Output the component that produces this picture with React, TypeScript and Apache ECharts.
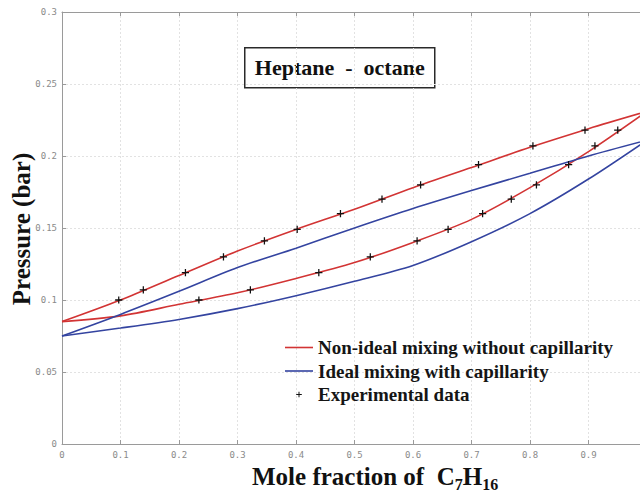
import React, { useEffect, useRef } from "react";
import * as echarts from "echarts";

const moleFraction = [0, 0.1, 0.2, 0.3, 0.4, 0.5, 0.6, 0.7, 0.8, 0.9, 1.0];
const nonIdealUpper = [0.085, 0.1, 0.117, 0.134, 0.149, 0.163, 0.178, 0.192, 0.206, 0.219, 0.231];
const nonIdealLower = [0.085, 0.089, 0.097, 0.105, 0.115, 0.126, 0.14, 0.156, 0.178, 0.203, 0.231];
const idealUpper = [0.075, 0.09, 0.106, 0.1225, 0.136, 0.15, 0.1635, 0.176, 0.188, 0.2, 0.211];
const idealLower = [0.075, 0.0805, 0.0865, 0.094, 0.103, 0.113, 0.124, 0.1405, 0.16, 0.184, 0.211];

const expPressure = [0.1, 0.107, 0.119, 0.13, 0.141, 0.149, 0.16, 0.17, 0.18, 0.194, 0.207, 0.218];
const expUpperX = [0.097, 0.139, 0.211, 0.276, 0.346, 0.402, 0.476, 0.547, 0.613, 0.712, 0.805, 0.894];
const expLowerX = [0.234, 0.322, 0.439, 0.527, 0.607, 0.66, 0.719, 0.768, 0.811, 0.866, 0.911, 0.95];

const NAME_NONIDEAL = "Non-ideal mixing without capillarity";
const NAME_IDEAL = "Ideal mixing with capillarity";
const NAME_EXP = "Experimental data";
const Y_NAME = "Pressure (bar)";
const TITLE = "Heptane  -  octane";

const RED = "#d23434";
const BLUE = "#3444a0";
const PLUS =
  "path://M0,0 M20,20 M9.3,6 L10.7,6 L10.7,9.3 L14,9.3 L14,10.7 L10.7,10.7 L10.7,14 L9.3,14 L9.3,10.7 L6,10.7 L6,9.3 L9.3,9.3 Z";
const LINE_ICON = "path://M0,0 M28,14 M0,6.2 L28,6.2 L28,7.8 L0,7.8 Z";
const SERIF = "'Liberation Serif', 'Times New Roman', serif";
const MONO = "'DejaVu Sans Mono', 'Liberation Mono', monospace";

const pairs = (xs: number[], ys: number[]) => xs.map((x, i) => [x, ys[i]]);

export default function App() {
  const ref = useRef<HTMLDivElement>(null);
  useEffect(() => {
    if (!ref.current) return;
    const chart = echarts.init(ref.current, undefined, { renderer: "svg" });
    const lineSeries = (name: string, ys: number[], color: string) => ({
      type: "line",
      name,
      data: pairs(moleFraction, ys),
      smooth: 0.3,
      symbol: "none",
      lineStyle: { color, width: 1.6 },
      itemStyle: { color },
      z: 2,
    });
    chart.setOption({
      animation: false,
      backgroundColor: "#ffffff",
      grid: { left: 62, right: 0, top: 12, bottom: 51, containLabel: false, outerBoundsMode: "none" },
      legend: {
        orient: "vertical",
        left: 285,
        top: 338,
        padding: 0,
        itemWidth: 28,
        itemHeight: 14,
        itemGap: 4.5,
        data: [
          { name: NAME_NONIDEAL, icon: LINE_ICON },
          { name: NAME_IDEAL, icon: LINE_ICON },
          { name: NAME_EXP },
        ],
        textStyle: {
          fontFamily: SERIF,
          fontWeight: "bold",
          fontSize: 19,
          lineHeight: 19,
          color: "#151515",
        },
      },
      xAxis: [
        {
          type: "value",
          min: 0,
          max: 1,
          interval: 0.1,
          axisLine: { show: true, lineStyle: { color: "#9a9a9a", width: 1 } },
          axisTick: { show: true, inside: true, length: 4, lineStyle: { color: "#9a9a9a" } },
          axisLabel: { fontFamily: MONO, fontSize: 9, color: "#8a8a8a", margin: 6, showMaxLabel: false },
          splitLine: { show: true, lineStyle: { color: "#e2e2e2", type: [2, 2] } },
        },
        {
          type: "value",
          position: "top",
          min: 0,
          max: 1,
          interval: 0.1,
          axisLine: { show: true, lineStyle: { color: "#9a9a9a", width: 1 } },
          axisTick: { show: true, inside: true, length: 4, lineStyle: { color: "#9a9a9a" } },
          axisLabel: { show: false },
          splitLine: { show: false },
        },
      ],
      yAxis: {
        type: "value",
        min: 0,
        max: 0.3,
        interval: 0.05,
        axisLine: { show: true, lineStyle: { color: "#9a9a9a", width: 1 } },
        axisTick: { show: true, inside: true, length: 4, lineStyle: { color: "#9a9a9a" } },
        axisLabel: { fontFamily: MONO, fontSize: 9, color: "#8a8a8a", margin: 5 },
        splitLine: { show: true, lineStyle: { color: "#e2e2e2", type: [2, 2] } },
      },
      series: [
        lineSeries(NAME_NONIDEAL, nonIdealUpper, RED),
        lineSeries(NAME_NONIDEAL, nonIdealLower, RED),
        lineSeries(NAME_IDEAL, idealUpper, BLUE),
        lineSeries(NAME_IDEAL, idealLower, BLUE),
        {
          type: "scatter",
          name: NAME_EXP,
          data: [...pairs(expUpperX, expPressure), ...pairs(expLowerX, expPressure)],
          symbol: PLUS,
          symbolSize: 18,
          itemStyle: { color: "#111", opacity: 1 },
          z: 3,
        },
      ],
      graphic: [
        {
          type: "group",
          left: 244,
          top: 47,
          children: [
            {
              type: "rect",
              shape: { x: 0, y: 0, width: 190, height: 40 },
              style: { fill: "#ffffff", stroke: "#2a2a2a", lineWidth: 1.5 },
            },
            {
              type: "text",
              x: 95,
              y: 20,
              style: {
                text: TITLE,
                fontFamily: SERIF,
                fontWeight: "bold",
                fontSize: 22,
                fill: "#111",
                align: "center",
                verticalAlign: "middle",
              },
            },
          ],
        },
        {
          type: "text",
          x: 21,
          y: 229,
          rotation: Math.PI / 2,
          style: {
            text: Y_NAME,
            fontFamily: SERIF,
            fontWeight: "bold",
            fontSize: 25,
            fill: "#111",
            align: "center",
            verticalAlign: "middle",
          },
        },
        {
          type: "text",
          x: 252,
          y: 476,
          style: {
            text: "{a|Mole fraction of  C}{s|7}{a|H}{s|16}",
            fill: "#111",
            verticalAlign: "middle",
            rich: {
              a: { fontFamily: SERIF, fontWeight: "bold", fontSize: 25, fill: "#111" },
              s: {
                fontFamily: SERIF,
                fontWeight: "bold",
                fontSize: 16,
                fill: "#111",
                padding: [16, 0, 0, 0],
              },
            },
          },
        },
      ],
    });
    return () => chart.dispose();
  }, []);
  return (
    <div
      style={{ position: "fixed", left: 0, top: 0, width: 640, height: 495, overflow: "hidden", background: "#fff" }}
    >
      <div ref={ref} style={{ width: 647, height: 495 }} />
    </div>
  );
}
